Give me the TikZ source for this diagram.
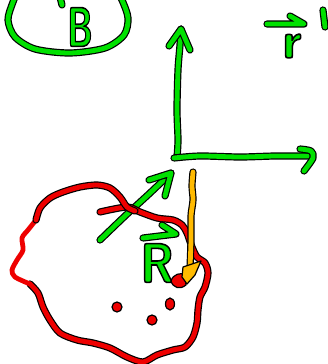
\documentclass[tikz,border=0pt]{standalone}
\usepackage{tikz}
\usepackage{xcolor}

\definecolor{penGreen}{RGB}{0,225,0}
\definecolor{penRed}{RGB}{238,0,0}
\definecolor{penAmber}{RGB}{255,186,0}

% outlined glyphs: fill and stroke text render mode
\newcommand{\inked}[1]{\special{pdf:literal direct 0 0 0 RG 1.2 w 2 Tr}#1\special{pdf:literal direct 0 Tr}}

\tikzset{
  ink/.style={draw=#1, line width=3.6pt, line cap=round, line join=round,
    preaction={draw=black, line width=5.4pt, line cap=round, line join=round}},
  bare/.style={draw=#1, line width=3.6pt, line cap=round, line join=round},
  blot/.style={fill=#1, draw=black, line width=0.9pt, line join=round},
  scrawl/.style={text=penGreen, inner sep=0pt,
    font=\sffamily\bfseries\fontsize{#1}{#1}\selectfont},
}

\begin{document}
\begin{tikzpicture}[x=0.75pt,y=-0.75pt]
  \useasboundingbox (0,0) rectangle (328,364);
  \clip (0,0) rectangle (328,364);

  % circled letter, top left
  \draw[ink=penGreen] plot[smooth] coordinates {(20,-14) (13,2) (8,20) (15,37)
    (35,49) (70,53) (105,48) (124,35) (128,18) (122,0) (114,-14)};
  \draw[ink=penGreen] (60,-3) -- (62,5);
  \node[scrawl=42, xscale=0.62] (letterB) at (80,27) {\inked{B}};

  % position vector label, top right (clipped)
  \node[scrawl=38] (labelr) at (292,46) {\inked{r}};
  \draw[ink=penGreen] (267,24) -- (304,24) -- (290,16);
  \draw[ink=penGreen] (323,10) -- (325,27);

  % frame axes
  \coordinate (origin) at (177,157);
  \coordinate (ytip) at (181,29);
  \coordinate (xtip) at (310,156);
  \draw[ink=penGreen] plot[smooth] coordinates {(origin) (178,140) (177,110)
    (178,70) (180,45) (ytip)};
  \draw[ink=penGreen] (169,46) -- (ytip) -- (190,50);
  \draw[ink=penGreen] plot[smooth] coordinates {(174,158) (200,156) (240,157)
    (275,156) (xtip)};
  \draw[ink=penGreen] plot[smooth] coordinates {(300,149) (311,151) (313,158)
    (304,171)};

  % diagonal vector, crossing the body
  \coordinate (dtail) at (100,240);
  \coordinate (dtip) at (171,173);
  \draw[ink=penGreen] plot[smooth] coordinates {(dtail) (125,216) (150,193)
    (dtip)};
  \draw[ink=penGreen] (149,180) -- (dtip) -- (165,196);

  % R label
  \node[scrawl=42, xscale=0.85] (labelR) at (157,263) {\inked{R}};
  \draw[ink=penGreen] (143,238) -- (176,234) -- (162,225);

  % extended body
  \draw[ink=penRed] plot[smooth] coordinates {(100,212) (127,207) (140,212)
    (157,218) (173,220) (182,225) (187,233) (192,247) (197,257) (205,263)
    (208,273) (205,287) (200,297) (198,310) (197,323) (193,337) (185,347)
    (173,350) (157,355) (143,362) (127,357) (110,348) (93,343) (77,340)
    (60,333) (50,320) (43,307) (38,293) (30,284)};
  \draw[bare=penRed] plot[smooth] coordinates {(30,284) (15,277) (12,270)
    (17,260) (23,250) (22,238) (28,230) (36,220)};
  \draw[ink=penRed] plot[smooth] coordinates {(36,220) (40,208) (50,198)
    (63,192) (80,187) (97,185) (110,188) (120,197) (127,207) (135,211)};

  % particle position vector
  \coordinate (ytail) at (193,172);
  \coordinate (yhead) at (190,268);
  \draw[ink=penAmber] plot[smooth] coordinates {(ytail) (192,186) (193,200)
    (191,216) (191,240) (yhead)};
  \fill[blot=penRed] (171,281) .. controls (173,274) and (181,272) ..
    (185,275) -- (186,285) .. controls (180,290) and (173,288) .. cycle;
  \fill[blot=penAmber] (183,267) -- (201,261) -- (195,275) -- (187,284)
    -- (182,277) -- cycle;

  % mass elements
  \fill[blot=penRed] (117,307) circle[radius=5];
  \fill[blot=penRed] (152,320) circle[radius=5];
  \fill[blot=penRed] (170,304) ellipse[x radius=4.5, y radius=6];
\end{tikzpicture}
\end{document}
